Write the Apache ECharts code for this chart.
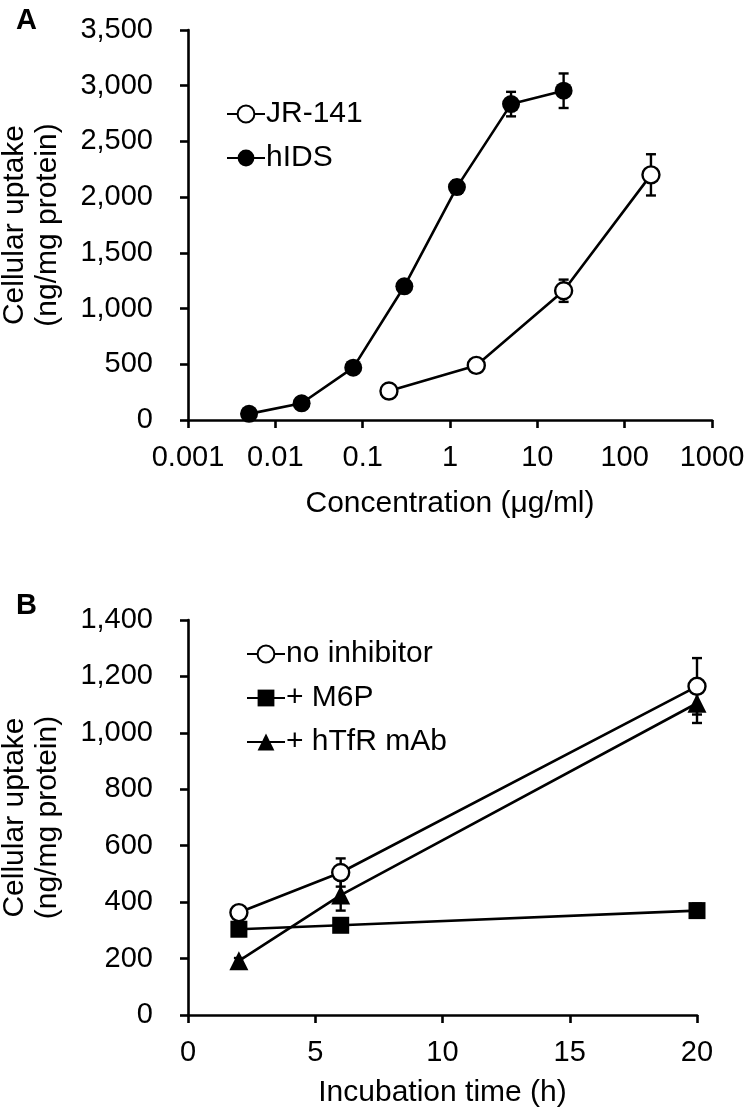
<!DOCTYPE html>
<html>
<head>
<meta charset="utf-8">
<script src="https://cdn.jsdelivr.net/npm/echarts@6/dist/echarts.min.js"></script>
<style>
html,body{margin:0;padding:0;background:#fff;}
#chart{width:747px;height:1113px;}
</style>
</head>
<body>
<div id="chart"></div>
<script>
// ---- Panel A data ----
const concJR = [0.2, 2, 20, 200];
const uptakeJR = [260, 490, 1160, 2200];
const errJR = [0, 0, 100, 185];
const concHIDS = [0.005, 0.02, 0.078, 0.3, 1.2, 5, 20];
const uptakeHIDS = [55, 150, 470, 1200, 2090, 2835, 2955];
const errHIDS = [0, 0, 20, 50, 60, 110, 155];
const xTicksA = ['0.001', '0.01', '0.1', '1', '10', '100', '1000'];

// ---- Panel B data ----
const timeB = [2, 6, 20];
const noInh = [363, 505, 1165];
const errNoInh = [15, 50, 100];
const m6p = [304, 318, 370];
const errM6p = [20, 15, 25];
const htfr = [192, 425, 1105];
const errHtfr = [10, 55, 70];

const FONT = "'Liberation Sans', Arial, sans-serif";
const FS = 29;
const FS_NAME = 30;
const BLACK = '#000';

function pairs(xs, ys) { return xs.map((x, i) => [x, ys[i]]); }
function errData(xs, ys, es) {
  return xs.map((x, i) => [x, ys[i] - es[i], ys[i] + es[i]]).filter((d, i) => es[i] > 0);
}
function errRender(params, api) {
  const x = api.value(0);
  const lo = api.coord([x, api.value(1)]);
  const hi = api.coord([x, api.value(2)]);
  const w = 5;
  const st = { stroke: BLACK, lineWidth: 2.4, fill: null };
  return {
    type: 'group',
    children: [
      { type: 'line', shape: { x1: lo[0], y1: lo[1], x2: hi[0], y2: hi[1] }, style: st },
      { type: 'line', shape: { x1: hi[0] - w, y1: hi[1], x2: hi[0] + w, y2: hi[1] }, style: st },
      { type: 'line', shape: { x1: lo[0] - w, y1: lo[1], x2: lo[0] + w, y2: lo[1] }, style: st }
    ]
  };
}
const axisCommon = {
  axisLine: { show: true, onZero: false, lineStyle: { color: BLACK, width: 2.6 } },
  axisTick: { show: true, inside: false, length: 8, lineStyle: { color: BLACK, width: 2.6 } },
  splitLine: { show: false },
  axisLabel: { color: BLACK, fontSize: FS, fontFamily: FONT },
  nameTextStyle: { color: BLACK, fontSize: FS_NAME, fontFamily: FONT }
};
const lineStyle = { color: BLACK, width: 2.6 };
const openItem = { color: '#fff', borderColor: BLACK, borderWidth: 2.4 };
const fillItem = { color: BLACK, borderColor: BLACK, borderWidth: 0 };

const chart = echarts.init(document.getElementById('chart'), null, { renderer: 'canvas' });
chart.setOption({
  animation: false,
  backgroundColor: '#fff',
  textStyle: { fontFamily: FONT },
  title: [
    { text: 'A', left: 11, top: 1, textStyle: { fontSize: 29, fontWeight: 'bold', color: BLACK, fontFamily: FONT } },
    { text: 'B', left: 11, top: 586, textStyle: { fontSize: 29, fontWeight: 'bold', color: BLACK, fontFamily: FONT } }
  ],
  grid: [
    { left: 188, right: 35, top: 30, height: 390, containLabel: false, outerBoundsMode: 'none' },
    { left: 188, right: 50, top: 620, height: 395, containLabel: false, outerBoundsMode: 'none' }
  ],
  legend: [
    {
      orient: 'vertical', left: 221, top: 94, itemWidth: 38, itemHeight: 21, itemGap: 14,
      data: ['JR-141', 'hIDS'],
      textStyle: { color: BLACK, fontSize: FS_NAME, fontFamily: FONT, padding: [0, 0, 0, -4] }
    },
    {
      orient: 'vertical', left: 241, top: 634, itemWidth: 38, itemHeight: 21, itemGap: 14,
      data: ['no inhibitor', '+ M6P', '+ hTfR mAb'],
      textStyle: { color: BLACK, fontSize: FS_NAME, fontFamily: FONT, padding: [0, 0, 0, -4] }
    }
  ],
  xAxis: [
    Object.assign({}, axisCommon, {
      type: 'log', logBase: 10, gridIndex: 0, min: 0.001, max: 1000, interval: 1,
      name: 'Concentration (\u03bcg/ml)', nameLocation: 'middle', nameGap: 69,
      axisLabel: Object.assign({}, axisCommon.axisLabel, {
        margin: 23,
        formatter: v => xTicksA[Math.round(Math.log10(v)) + 3]
      })
    }),
    Object.assign({}, axisCommon, {
      type: 'value', gridIndex: 1, min: 0, max: 20, interval: 5,
      name: 'Incubation time (h)', nameLocation: 'middle', nameGap: 63,
      axisLabel: Object.assign({}, axisCommon.axisLabel, { margin: 23 })
    })
  ],
  yAxis: [
    Object.assign({}, axisCommon, {
      type: 'value', gridIndex: 0, min: 0, max: 3500, interval: 500,
      name: 'Cellular uptake\n(ng/mg protein)', nameLocation: 'middle', nameGap: 124, nameRotate: 90,
      nameTextStyle: Object.assign({}, axisCommon.nameTextStyle, { lineHeight: 33 }),
      axisLabel: Object.assign({}, axisCommon.axisLabel, {
        margin: 35, formatter: v => v.toLocaleString('en-US')
      })
    }),
    Object.assign({}, axisCommon, {
      type: 'value', gridIndex: 1, min: 0, max: 1400, interval: 200,
      name: 'Cellular uptake\n(ng/mg protein)', nameLocation: 'middle', nameGap: 124, nameRotate: 90,
      nameTextStyle: Object.assign({}, axisCommon.nameTextStyle, { lineHeight: 33 }),
      axisLabel: Object.assign({}, axisCommon.axisLabel, {
        margin: 35, formatter: v => v.toLocaleString('en-US')
      })
    })
  ],
  series: [
    { type: 'custom', name: 'errJR', xAxisIndex: 0, yAxisIndex: 0, renderItem: errRender, data: errData(concJR, uptakeJR, errJR), z: 1, silent: true },
    { type: 'custom', name: 'errHIDS', xAxisIndex: 0, yAxisIndex: 0, renderItem: errRender, data: errData(concHIDS, uptakeHIDS, errHIDS), z: 1, silent: true },
    { type: 'line', name: 'JR-141', xAxisIndex: 0, yAxisIndex: 0, data: pairs(concJR, uptakeJR),
      symbol: 'circle', symbolSize: 17, showAllSymbol: true, lineStyle, itemStyle: openItem, z: 3 },
    { type: 'line', name: 'hIDS', xAxisIndex: 0, yAxisIndex: 0, data: pairs(concHIDS, uptakeHIDS),
      symbol: 'circle', symbolSize: 18, showAllSymbol: true, lineStyle, itemStyle: fillItem, z: 3 },

    { type: 'custom', name: 'errNo', xAxisIndex: 1, yAxisIndex: 1, renderItem: errRender, data: errData(timeB, noInh, errNoInh), z: 1, silent: true },
    { type: 'custom', name: 'errM6P', xAxisIndex: 1, yAxisIndex: 1, renderItem: errRender, data: errData(timeB, m6p, errM6p), z: 1, silent: true },
    { type: 'custom', name: 'errHtfr', xAxisIndex: 1, yAxisIndex: 1, renderItem: errRender, data: errData(timeB, htfr, errHtfr), z: 1, silent: true },
    { type: 'line', name: 'no inhibitor', xAxisIndex: 1, yAxisIndex: 1, data: pairs(timeB, noInh),
      symbol: 'circle', symbolSize: 17, lineStyle, itemStyle: openItem, z: 3 },
    { type: 'line', name: '+ M6P', xAxisIndex: 1, yAxisIndex: 1, data: pairs(timeB, m6p),
      symbol: 'rect', symbolSize: 17, lineStyle, itemStyle: fillItem, z: 3 },
    { type: 'line', name: '+ hTfR mAb', xAxisIndex: 1, yAxisIndex: 1, data: pairs(timeB, htfr),
      symbol: 'triangle', symbolSize: 19, lineStyle, itemStyle: fillItem, z: 3 }
  ]
});
</script>
</body>
</html>
